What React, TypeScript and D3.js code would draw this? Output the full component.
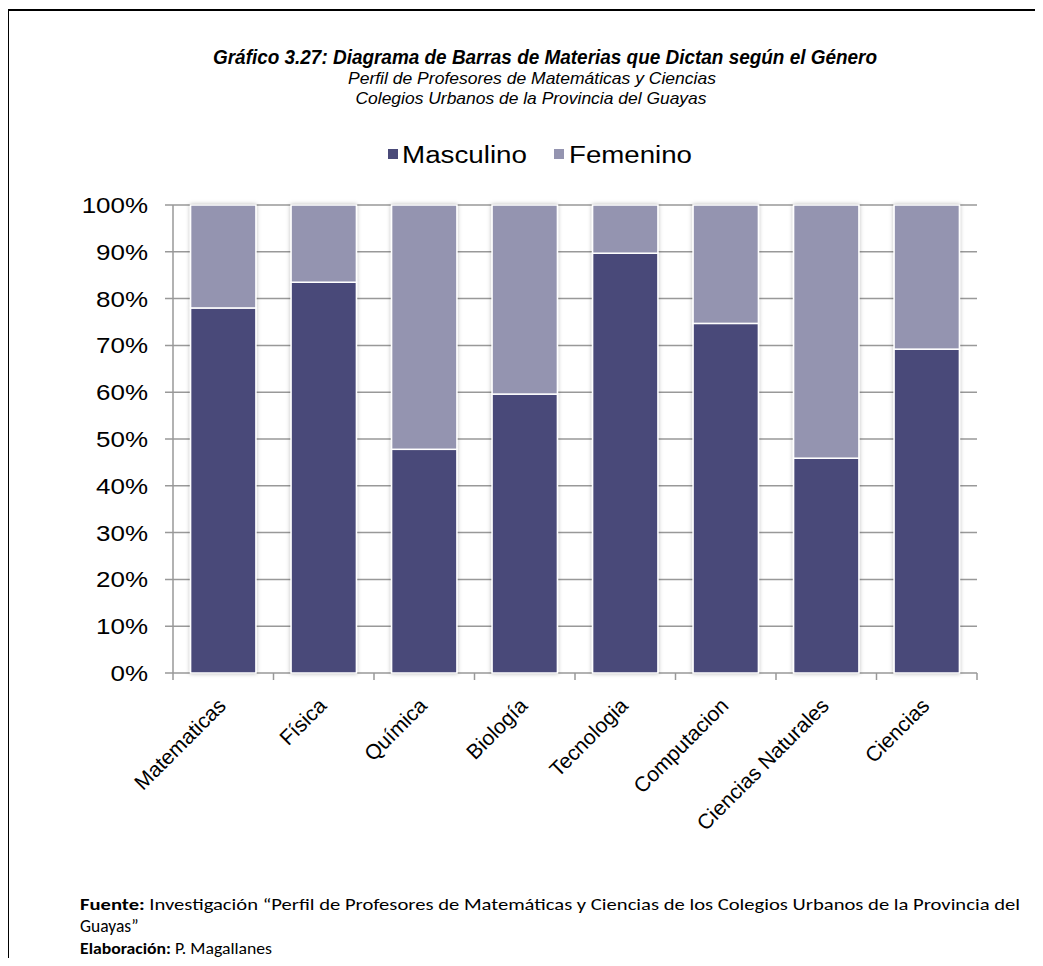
import React from "react";
import * as d3 from "d3";

const categories = ["Matematicas", "Física", "Química", "Biología", "Tecnologia", "Computacion", "Ciencias Naturales", "Ciencias"];
const masculino = [0.78, 0.835, 0.478, 0.596, 0.897, 0.747, 0.459, 0.692];
const femenino = masculino.map((m) => 1 - m);
const yTicks = [0, 0.1, 0.2, 0.3, 0.4, 0.5, 0.6, 0.7, 0.8, 0.9, 1];
const seriesNames = ["Masculino", "Femenino"];
const colors = ["#4a4a79", "#9494b0"];

const W = 1043;
const H = 966;
const left = 173;
const right = 977;
const top = 205;
const bottom = 673;

const ARIAL = "'Liberation Sans',Arial,sans-serif";
const NARROW = "'Liberation Sans Narrow','Liberation Sans',Arial,sans-serif";
const CALIBRI = "Carlito,Lato,'Open Sans',sans-serif";

export default function App() {
  const x = d3.scaleBand<string>().domain(categories).range([left, right]).paddingInner(0.35).paddingOuter(0.175);
  const y = d3.scaleLinear().domain([0, 1]).range([bottom, top]);
  const fmt = d3.format(".0%");
  const stackData = categories.map((c, i) => ({ cat: c, Masculino: masculino[i], Femenino: femenino[i] }));
  const stack = d3.stack<any>().keys(seriesNames)(stackData);
  const step = x.step();
  const tickXs = d3.range(categories.length + 1).map((i) => left + i * step);

  return (
    <div style={{ margin: -8 }}>
      <svg width={W} height={H} style={{ display: "block", background: "#fff" }}>
        <defs>
          <filter id="sh" x="-20%" y="-5%" width="140%" height="110%">
            <feDropShadow dx="0" dy="0" stdDeviation="2.2" floodColor="#000" floodOpacity="0.28" />
          </filter>
        </defs>
        {/* frame */}
        <line x1={7} x2={W} y1={10} y2={10} stroke="#000" strokeWidth={2} />
        <line x1={8} x2={8} y1={9} y2={H} stroke="#000" strokeWidth={2} />

        {/* titles */}
        <text x={545} y={64} textAnchor="middle" fontFamily={NARROW} fontWeight="bold" fontStyle="italic" fontSize={21} textLength={664} lengthAdjust="spacingAndGlyphs">
          Gráfico 3.27: Diagrama de Barras de Materias que Dictan según el Género
        </text>
        <text x={532} y={84} textAnchor="middle" fontFamily={NARROW} fontStyle="italic" fontSize={17} textLength={368} lengthAdjust="spacingAndGlyphs">
          Perfil de Profesores de Matemáticas y Ciencias
        </text>
        <text x={531} y={104} textAnchor="middle" fontFamily={NARROW} fontStyle="italic" fontSize={17} textLength={351} lengthAdjust="spacingAndGlyphs">
          Colegios Urbanos de la Provincia del Guayas
        </text>

        {/* legend */}
        <g fontFamily={ARIAL} fontSize={23}>
          <rect x={388} y={149} width={10} height={10} fill={colors[0]} />
          <text x={402} y={163} textLength={125} lengthAdjust="spacingAndGlyphs">{seriesNames[0]}</text>
          <rect x={554} y={149} width={10} height={10} fill={colors[1]} />
          <text x={569} y={163} textLength={123} lengthAdjust="spacingAndGlyphs">{seriesNames[1]}</text>
        </g>

        {/* gridlines */}
        {yTicks.map((t) => (
          <line key={"g" + t} x1={left - 8} x2={right} y1={y(t)} y2={y(t)} stroke="#999" strokeWidth={1.5} />
        ))}
        <line x1={left} x2={left} y1={top} y2={bottom} stroke="#999" strokeWidth={1.5} />
        {tickXs.map((tx, i) => (
          <line key={"t" + i} x1={tx} x2={tx} y1={bottom} y2={bottom + 7} stroke="#999" strokeWidth={1.5} />
        ))}

        {/* y labels */}
        <g fontFamily={ARIAL} fontSize={22} textAnchor="end">
          {yTicks.map((t) => (
            <text key={"yl" + t} transform={`translate(148,${y(t)}) scale(1.18,1)`} dy="0.36em">{fmt(t)}</text>
          ))}
        </g>

        {/* bars */}
        <g filter="url(#sh)">
          {stack.map((s, si) =>
            s.map((d, i) => (
              <rect
                key={si + "-" + i}
                x={x(categories[i])}
                width={x.bandwidth()}
                y={y(d[1])}
                height={y(d[0]) - y(d[1])}
                fill={colors[si]}
                stroke="#fff"
                strokeWidth={1.5}
              />
            ))
          )}
        </g>

        {/* x labels */}
        <g fontFamily={ARIAL} fontSize={21} textAnchor="end">
          {categories.map((c) => {
            const cx = (x(c) as number) + x.bandwidth() / 2 + 4;
            const cy = bottom + 34;
            return (
              <text key={c} transform={`translate(${cx},${cy}) rotate(-45)`}>{c}</text>
            );
          })}
        </g>

        {/* footer */}
        <g fontFamily={CALIBRI} fontSize={16.5} fill="#000">
          <text x={80} y={910} textLength={940} lengthAdjust="spacingAndGlyphs">
            <tspan fontWeight="bold">Fuente:</tspan> Investigación “Perfil de Profesores de Matemáticas y Ciencias de los Colegios Urbanos de la Provincia del
          </text>
          <text x={80} y={932} fontSize={17.5}>Guayas”</text>
          <text x={80} y={954} textLength={192} lengthAdjust="spacingAndGlyphs">
            <tspan fontWeight="bold">Elaboración:</tspan> P. Magallanes
          </text>
        </g>
      </svg>
    </div>
  );
}
